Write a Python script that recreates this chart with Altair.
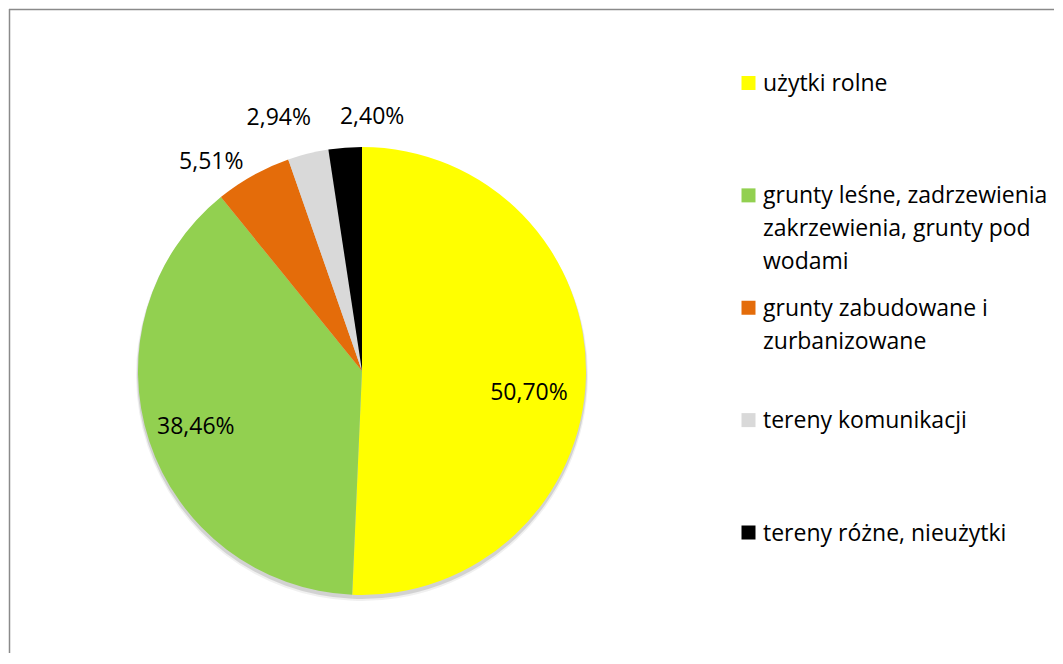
import altair as alt
import pandas as pd

categories = [
    "użytki rolne",
    "grunty leśne, zadrzewienia zakrzewienia, grunty pod wodami",
    "grunty zabudowane i zurbanizowane",
    "tereny komunikacji",
    "tereny różne, nieużytki",
]
legend_labels = [
    "użytki rolne",
    "grunty leśne, zadrzewienia\nzakrzewienia, grunty pod\nwodami",
    "grunty zabudowane i\nzurbanizowane",
    "tereny komunikacji",
    "tereny różne, nieużytki",
]
values = [50.70, 38.46, 5.51, 2.94, 2.40]
value_labels = ["50,70%", "38,46%", "5,51%", "2,94%", "2,40%"]
colors = ["#FFFF00", "#92D050", "#E46C0A", "#D9D9D9", "#000000"]

df = pd.DataFrame({
    "cat": categories,
    "legend": legend_labels,
    "value": values,
    "label": value_labels,
    "order": list(range(len(categories))),
})

W, H = 1045, 645
CX, CY, R = 353, 363, 224
FONT = "Open Sans"
FS = 23

color = alt.Color("cat:N", scale=alt.Scale(domain=categories, range=colors), legend=None)

base = alt.Chart(df).encode(
    theta=alt.Theta("value:Q", stack=True),
    order=alt.Order("order:Q"),
)

shadow = base.mark_arc(outerRadius=R + 1, color="#000000", opacity=0.12).encode(
    x=alt.value(CX), y=alt.value(CY + 3)
)
shadow2 = base.mark_arc(outerRadius=R + 2, color="#000000", opacity=0.06).encode(
    x=alt.value(CX), y=alt.value(CY + 4)
)
pie = base.mark_arc(outerRadius=R, stroke=None).encode(
    color=color, x=alt.value(CX), y=alt.value(CY)
)

# per-label placement style: (radius, dx, dy)
label_style = [
    (175, -8, 18),
    (175, 0, 1),
    (250, -29, 9),
    (250, -23, -10),
    (250, 29, -5),
]
label_layers = []
for cat, (rad, dx, dy) in zip(categories, label_style):
    label_layers.append(
        base.mark_text(
            radius=rad, dx=dx, dy=dy, font=FONT, fontSize=FS, color="#000000",
            align="center", baseline="middle",
        ).encode(
            x=alt.value(CX), y=alt.value(CY),
            text=alt.condition(alt.datum.cat == cat, "label:N", alt.value("")),
        )
    )

leg_y = alt.Y(
    "cat:N",
    scale=alt.Scale(type="point", domain=categories, range=[75, 524.5], padding=0),
    axis=None,
)
leg_sym = alt.Chart(df).mark_square(size=196, opacity=1, filled=True).encode(
    y=leg_y, x=alt.value(739.5), color=color
)
leg_txt = alt.Chart(df).mark_text(
    align="left", baseline="alphabetic", dy=8, font=FONT, fontSize=FS,
    lineBreak="\n", lineHeight=33, color="#000000",
).encode(y=leg_y, x=alt.value(754), text="legend:N")

border_df = pd.DataFrame({"a": [0]})
border_top = alt.Chart(border_df).mark_rule(color="#8a8a8a", strokeWidth=1.5).encode(
    x=alt.value(0), x2=alt.value(W), y=alt.value(1.5)
)
border_left = alt.Chart(border_df).mark_rule(color="#8a8a8a", strokeWidth=1.5).encode(
    x=alt.value(0.5), y=alt.value(1), y2=alt.value(H)
)

chart = alt.layer(
    shadow2, shadow, pie, *label_layers, leg_sym, leg_txt, border_top, border_left
).properties(
    width=W, height=H, padding=0, background="white"
).configure_view(stroke=None)

chart.save("out.html", embed_options={"renderer": "svg", "actions": False})
